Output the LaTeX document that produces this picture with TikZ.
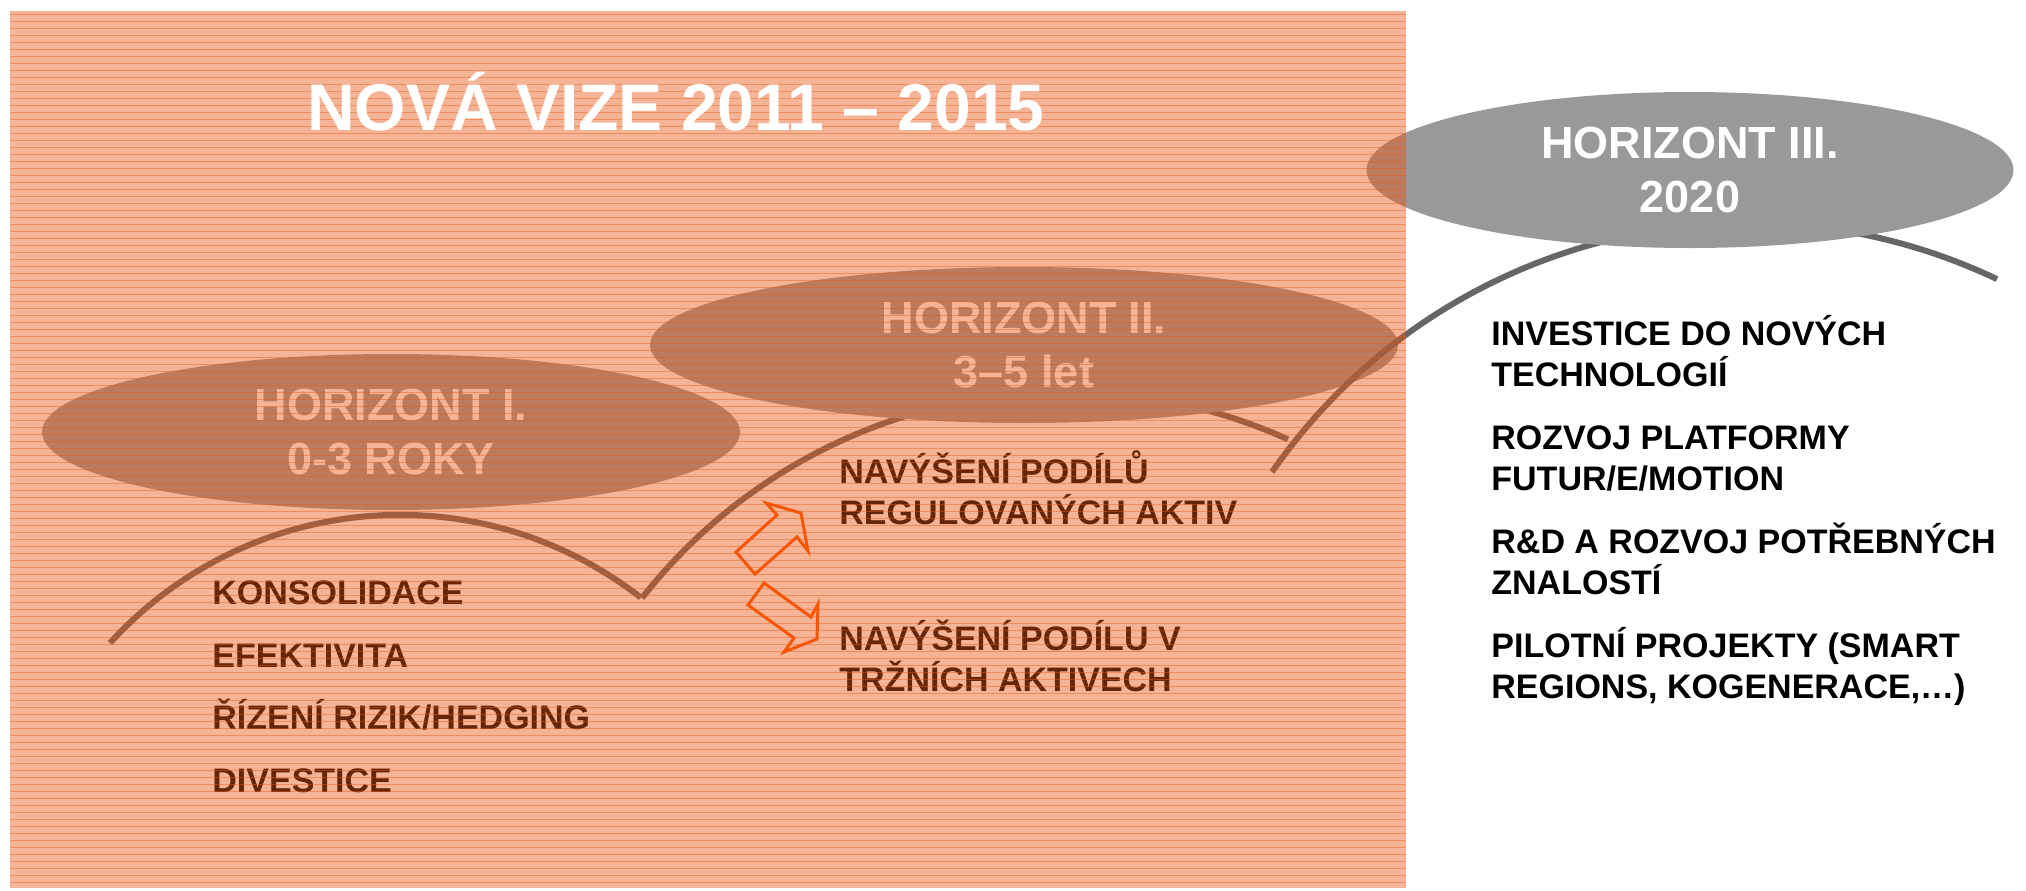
\documentclass[tikz,border=0pt]{standalone}
\usepackage{fontspec}
\setmainfont{Liberation Sans}
\usetikzlibrary{positioning, shapes.geometric}

\definecolor{ellgray}{RGB}{153,153,153}
\definecolor{arcgray}{RGB}{102,102,102}
\definecolor{veil}{RGB}{232,85,15}
\definecolor{stripe}{RGB}{235,90,20}
\definecolor{arroworange}{RGB}{255,85,0}

\begin{document}
\begin{tikzpicture}[x=0.5pt, y=0.5pt,
    horizon/.style={ellipse, fill=ellgray, text=white, inner sep=0pt, minimum height=78pt,
        align=center, font=\fontsize{22.5}{27}\selectfont\bfseries},
    hump/.style={draw=arcgray, line width=3pt},
    item/.style={anchor=base west, align=left, inner sep=0pt, font=\fontsize{17}{20.5}\selectfont\bfseries},
    blockarrow/.style={draw=arroworange, line width=1.5pt}]
        \useasboundingbox (0,0) rectangle (2026,-890);

        % humps under the first two horizons
        \coordinate (start) at (110,-643);
        \coordinate (trough) at (642,-598);
        \coordinate (rise) at (1272,-472);
        \draw[hump] (start) arc[start angle=137.7, end angle=52.1, radius=392];
        \draw[hump] (trough) arc[start angle=141.9, end angle=65.7, radius=539];

        \node[horizon, minimum width=349pt] (hzI) at (391,-432) {HORIZONT I.\\0-3 ROKY};
        \node[horizon, minimum width=374pt] (hzII) at (1024,-345) {HORIZONT II.\\3–5 let};

        \draw[hump] (rise) arc[start angle=145.2, end angle=64.6, radius=580];
        \node[horizon, minimum width=323.5pt] (hzIII) at (1690,-170) {HORIZONT III.\\2020};

        % horizon I (base = last line)
        \node[item] (konsol) at (212,-604) {KONSOLIDACE};
        \node[item] (efekt) at (212,-667) {EFEKTIVITA};
        \node[item] (rizeni) at (212,-729) {ŘÍZENÍ RIZIK/HEDGING};
        \node[item] (divest) at (212,-792) {DIVESTICE};

        % horizon II
        \node[item] (regul) at (839,-524) {NAVÝŠENÍ PODÍLŮ\\REGULOVANÝCH AKTIV};
        \node[item] (trzni) at (839,-691) {NAVÝŠENÍ PODÍLU V\\TRŽNÍCH AKTIVECH};
        \draw[blockarrow] (736,-552) -- (755,-574) -- (797,-537) -- (808,-551) -- (801,-513) -- (766,-503) -- (777,-515) -- cycle;
        \draw[blockarrow] (764,-583) -- (748,-605) -- (794,-638) -- (784,-652) -- (817,-639) -- (818,-604) -- (811,-617) -- cycle;

        % horizon III
        \node[item] (invest) at (1491,-386) {INVESTICE DO NOVÝCH\\TECHNOLOGIÍ};
        \node[item] (platf) at (1491,-490) {ROZVOJ PLATFORMY\\FUTUR/E/MOTION};
        \node[item] (rnd) at (1491,-594) {R\&D A ROZVOJ POTŘEBNÝCH\\ZNALOSTÍ};
        \node[item] (pilot) at (1491,-698) {PILOTNÍ PROJEKTY (SMART\\REGIONS, KOGENERACE,…)};

        % striped veil over the 2011-2015 part
        \fill[veil, opacity=0.44] (10,-11) rectangle (1406,-888);
        \foreach \yy in {14,21,...,886} {
                \draw[stripe, opacity=0.45, line width=0.5pt] (10,-\yy) -- (1406,-\yy);
        }

        \node[anchor=base, inner sep=0pt, text=white, font=\fontsize{33}{40}\selectfont\bfseries] (title) at (676,-130) {NOVÁ VIZE 2011 – 2015};
\end{tikzpicture}
\end{document}
